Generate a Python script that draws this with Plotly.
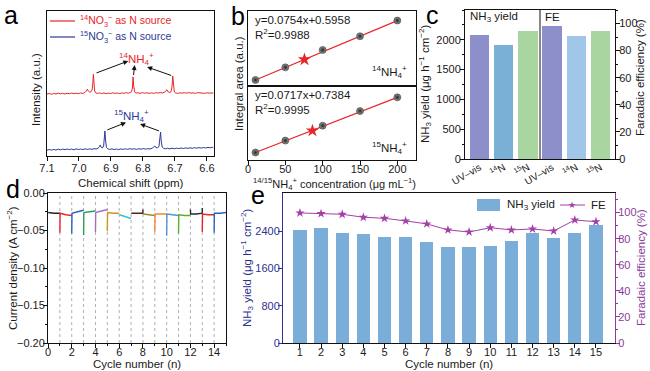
import plotly.graph_objects as go

W, H = 650, 371
FONT = "Liberation Sans, Arial, sans-serif"
BLACK = "#111111"
TICK = 11

def px(x):
    return x / W

def py(y):
    return 1 - y / H

# ---------------- Panel a : NMR spectra ----------------
red_ppm = [7.100, 7.093, 7.086, 7.079, 7.072, 7.065, 7.058, 7.051, 7.044, 7.037, 7.030, 7.023, 7.016, 7.009,
           7.002, 6.995, 6.988, 6.982, 6.977, 6.974, 6.971, 6.967, 6.963, 6.959, 6.957, 6.955, 6.953, 6.951,
           6.948, 6.943, 6.936, 6.929, 6.922, 6.915, 6.908, 6.901, 6.894, 6.887, 6.880, 6.873, 6.866, 6.859,
           6.852, 6.846, 6.840, 6.836, 6.833, 6.831, 6.829, 6.826, 6.822, 6.816, 6.809, 6.802, 6.795, 6.788,
           6.781, 6.774, 6.767, 6.760, 6.753, 6.746, 6.739, 6.732, 6.728, 6.725, 6.721, 6.716, 6.712, 6.709,
           6.707, 6.705, 6.702, 6.698, 6.692, 6.685, 6.678, 6.671, 6.664, 6.657, 6.650, 6.643, 6.636, 6.629,
           6.622, 6.615, 6.608, 6.601, 6.594, 6.587, 6.580]
red_int = [62.0, 62.5, 61.8, 62.4, 62.1, 62.8, 62.2, 62.6, 62.0, 62.7, 62.3, 62.9, 62.4, 62.8,
           62.3, 63.0, 62.6, 63.4, 65.0, 66.8, 65.2, 63.8, 64.2, 66.0, 72.0, 81.7, 73.0, 65.0,
           63.2, 62.6, 63.1, 62.5, 63.0, 62.4, 62.9, 62.5, 63.2, 62.6, 63.0, 62.4, 63.1, 62.7,
           63.3, 62.8, 63.5, 64.2, 68.0, 79.0, 70.0, 64.0, 62.9, 63.2, 62.7, 63.3, 62.8, 63.2,
           62.6, 63.1, 62.7, 63.3, 62.9, 63.4, 63.0, 63.8, 65.5, 66.2, 64.0, 63.5, 64.5, 70.0,
           80.0, 71.0, 64.0, 63.0, 62.7, 63.2, 62.8, 63.3, 62.9, 63.4, 62.8, 63.2, 62.7, 63.3,
           62.9, 63.2, 62.7, 63.1, 62.8, 63.2, 62.9]

blue_ppm = [7.100, 7.093, 7.086, 7.079, 7.072, 7.065, 7.058, 7.051, 7.044, 7.037, 7.030, 7.023, 7.016, 7.009,
            7.002, 6.995, 6.988, 6.981, 6.974, 6.967, 6.960, 6.953, 6.946, 6.940, 6.936, 6.934, 6.931, 6.927,
            6.923, 6.921, 6.919, 6.917, 6.914, 6.910, 6.904, 6.897, 6.890, 6.883, 6.876, 6.869, 6.862, 6.855,
            6.848, 6.841, 6.834, 6.827, 6.820, 6.813, 6.806, 6.799, 6.792, 6.785, 6.778, 6.771, 6.766, 6.763,
            6.760, 6.755, 6.750, 6.747, 6.745, 6.743, 6.740, 6.736, 6.730, 6.723, 6.716, 6.709, 6.702, 6.695,
            6.688, 6.681, 6.674, 6.667, 6.660, 6.653, 6.646, 6.639, 6.632, 6.625, 6.618, 6.611, 6.604, 6.597,
            6.590, 6.583, 6.580]
blue_int = [5.8, 6.5, 5.9, 6.6, 6.0, 6.8, 6.2, 6.9, 6.3, 7.0, 6.4, 6.9, 6.2, 7.1,
            6.5, 7.0, 6.4, 7.2, 6.6, 7.1, 6.7, 7.3, 7.0, 7.8, 9.5, 11.0, 9.0, 8.0,
            10.0, 17.0, 25.0, 16.0, 8.5, 7.2, 6.6, 7.1, 6.5, 7.0, 6.4, 7.1, 6.6, 7.2,
            6.7, 7.3, 6.8, 7.2, 6.6, 7.3, 6.8, 7.4, 6.9, 7.3, 7.0, 7.8, 9.0, 10.0,
            8.6, 8.2, 9.5, 16.0, 24.0, 15.0, 9.0, 7.8, 7.2, 7.7, 7.1, 7.8, 7.3, 7.9,
            7.4, 8.0, 7.5, 8.1, 7.6, 8.2, 7.7, 8.3, 7.8, 8.4, 7.9, 8.5, 8.0, 8.6,
            8.2, 8.7, 8.4]
a_ticks = [7.1, 7.0, 6.9, 6.8, 6.7, 6.6]

# ---------------- Panel b : calibration ----------------
b_conc = [10, 50, 100, 150, 200]
b14_area = [1.35, 4.4, 8.6, 11.9, 15.7]
b15_area = [1.45, 4.4, 8.1, 11.7, 15.1]
b14_fit_x = [10, 200]
b14_fit_y = [1.35, 15.68]
b15_fit_x = [10, 200]
b15_fit_y = [1.45, 15.08]
b14_sample = (75.6, 6.3)
b15_sample = (86.3, 6.85)
b_ticks = [0, 50, 100, 150, 200]

# ---------------- Panel c : methods comparison ----------------
c_labels = ["UV–vis", "<sup>14</sup>N", "<sup>15</sup>N"]
c_yield = [2080, 1910, 2150]
c_fe = [98.5, 90.5, 94.5]
c_pos_yield = [0.6, 1.6, 2.6]
c_pos_fe = [3.6, 4.6, 5.6]
c_yield_colors = ["#8c8fca", "#7aafd6", "#a9d6a0"]
c_fe_colors = ["#8c8fca", "#a0c6e8", "#a9d6a0"]

# ---------------- Panel d : cycling i-t ----------------
cyc_colors = ["#222222", "#e8262a", "#2a62c4", "#2e9e52", "#a070c8", "#cf9424", "#2ec4d6", "#4e2424",
              "#8e8e30", "#f2872f", "#4f95da", "#56b22c", "#2a2a2a", "#e52630", "#2a62c4"]
cyc_spike = [None, -0.053, -0.054, -0.056, -0.052, -0.051, None, None, None, -0.052, -0.057, -0.054,
             None, -0.052, -0.053]
cyc_start_tick = [None, None, None, None, None, None, None, None, None, None, None, None, -0.022, None, None]
cyc_start = [-0.026, -0.027, -0.027, -0.026, -0.026, -0.026, -0.029, -0.027, -0.028, -0.028, -0.028,
             -0.029, -0.028, -0.028, -0.027]
cyc_mid = [-0.027, -0.029, -0.025, -0.025, -0.024, -0.027, -0.031, -0.027, -0.029, -0.028, -0.029,
           -0.030, -0.028, -0.029, -0.027]
cyc_end = [-0.027, -0.030, -0.023, -0.024, -0.022, -0.027, -0.034, -0.027, -0.030, -0.028, -0.030,
           -0.030, -0.027, -0.029, -0.026]
cyc_end_tick = [None, None, None, None, None, None, None, -0.022, None, None, None, None, -0.020, None, None]
d_yticks = [0.0, -0.05, -0.10, -0.15, -0.20]
d_yticktext = ["0.00", "−0.05", "−0.10", "−0.15", "−0.20"]

# ---------------- Panel e : cycling yield & FE ----------------
e_cycle = list(range(1, 16))
e_yield = [2425, 2460, 2367, 2339, 2281, 2281, 2167, 2067, 2053, 2081, 2195, 2367, 2260, 2367, 2532]
e_fe = [99.7, 99.2, 98.7, 96.4, 95.6, 93.6, 91.3, 86.7, 85.1, 88.4, 86.7, 87.4, 85.9, 94.3, 93.0]

E_BLUE = "#2e3192"
E_PURP = "#8b3a9c"

fig = go.Figure()

# a
fig.add_trace(go.Scatter(x=red_ppm, y=red_int, mode="lines", line=dict(color="#e8262a", width=1),
                         xaxis="x", yaxis="y", showlegend=False))
fig.add_trace(go.Scatter(x=blue_ppm, y=blue_int, mode="lines", line=dict(color="#2b3a98", width=1),
                         xaxis="x", yaxis="y", showlegend=False))

# b
ball = dict(color="#9a9a9a", size=7, gradient=dict(type="radial", color="#222222"),
            line=dict(color="#222222", width=0.5))
fig.add_trace(go.Scatter(x=b14_fit_x, y=b14_fit_y, mode="lines", line=dict(color="#e8262a", width=1.2),
                         xaxis="x3", yaxis="y3", showlegend=False))
fig.add_trace(go.Scatter(x=b_conc, y=b14_area, mode="markers", marker=ball, xaxis="x3", yaxis="y3",
                         showlegend=False))
fig.add_trace(go.Scatter(x=[b14_sample[0]], y=[b14_sample[1]], mode="markers",
                         marker=dict(symbol="star", color="#e8262a", size=10), xaxis="x3", yaxis="y3",
                         showlegend=False))
fig.add_trace(go.Scatter(x=b15_fit_x, y=b15_fit_y, mode="lines", line=dict(color="#e8262a", width=1.2),
                         xaxis="x2", yaxis="y2", showlegend=False))
fig.add_trace(go.Scatter(x=b_conc, y=b15_area, mode="markers", marker=ball, xaxis="x2", yaxis="y2",
                         showlegend=False))
fig.add_trace(go.Scatter(x=[b15_sample[0]], y=[b15_sample[1]], mode="markers",
                         marker=dict(symbol="star", color="#e8262a", size=10), xaxis="x2", yaxis="y2",
                         showlegend=False))

# c
fig.add_trace(go.Bar(x=c_pos_yield, y=c_yield, width=0.8, marker=dict(color=c_yield_colors, line=dict(width=0)),
                     xaxis="x4", yaxis="y4", showlegend=False))
fig.add_trace(go.Bar(x=c_pos_fe, y=c_fe, width=0.8, marker=dict(color=c_fe_colors, line=dict(width=0)),
                     xaxis="x4", yaxis="y5", showlegend=False))

# d
for i in range(15):
    xs, ys = [], []
    if cyc_start_tick[i] is not None:
        xs.append(i); ys.append(cyc_start_tick[i])
    if cyc_spike[i] is not None:
        xs.append(i); ys.append(cyc_spike[i])
    xs += [i + 0.02, i + 0.5, i + 1]
    ys += [cyc_start[i], cyc_mid[i], cyc_end[i]]
    if cyc_end_tick[i] is not None:
        xs.append(i + 1); ys.append(cyc_end_tick[i])
    fig.add_trace(go.Scatter(x=xs, y=ys, mode="lines", line=dict(color=cyc_colors[i], width=1.4),
                             xaxis="x6", yaxis="y6", showlegend=False))

# e
fig.add_trace(go.Bar(x=e_cycle, y=e_yield, width=0.63, marker=dict(color="#7badd9", line=dict(width=0)),
                     xaxis="x7", yaxis="y7", showlegend=False))
fig.add_trace(go.Scatter(x=e_cycle, y=e_fe, mode="lines+markers", line=dict(color="#a43fa8", width=1),
                         marker=dict(symbol="star", size=7, color="#a43fa8"),
                         xaxis="x7", yaxis="y8", showlegend=False))


def axis(**kw):
    base = dict(showline=True, linecolor=BLACK, linewidth=1, mirror=True, ticks="outside", ticklen=4,
                tickwidth=1, tickcolor=BLACK, showgrid=False, zeroline=False, automargin=False,
                ticklabelstandoff=-5,
                tickfont=dict(size=TICK, color="#1a1a1a", family=FONT))
    base.update(kw)
    return base


layout = dict(
    width=W, height=H, margin=dict(l=0, r=0, t=0, b=0, autoexpand=False),
    paper_bgcolor="white", plot_bgcolor="white",
    font=dict(family=FONT, size=11, color="#1a1a1a"),
    bargap=0,
    # a
    xaxis=axis(domain=[px(47), px(214)], anchor="y", range=[7.1, 6.578], tickvals=a_ticks,
               ticktext=[f"{v:.1f}" for v in a_ticks], ticklabelstandoff=-2),
    yaxis=axis(domain=[py(156), py(11)], anchor="x", range=[0, 145], ticks="", showticklabels=False),
    # b bottom
    xaxis2=axis(domain=[px(248), px(416)], anchor="y2", range=[0, 225], tickvals=b_ticks),
    yaxis2=axis(domain=[py(160), py(86)], anchor="x2", range=[-0.4, 17.9], ticks="", showticklabels=False),
    # b top
    xaxis3=axis(domain=[px(248), px(416)], anchor="y3", range=[0, 225], ticks="", showticklabels=False),
    yaxis3=axis(domain=[py(86), py(11)], anchor="x3", range=[-0.1, 18.0], ticks="", showticklabels=False),
    # c
    xaxis4=axis(domain=[px(465), px(615)], anchor="y4", range=[0, 6.2], ticks="", ticklabelstandoff=-2,
                tickvals=c_pos_yield + c_pos_fe, ticktext=c_labels + c_labels, tickangle=-30,
                tickfont=dict(size=10, color="#1a1a1a", family=FONT)),
    yaxis4=axis(domain=[py(159), py(10)], anchor="x4", range=[0, 2500], tickvals=[0, 500, 1000, 1500, 2000],
                mirror=False, ticklabelstandoff=-3,
                minor=dict(dtick=250, ticks="outside", ticklen=2, tickcolor=BLACK)),
    yaxis5=axis(domain=[py(159), py(10)], anchor="x4", overlaying="y4", side="right", range=[0, 110],
                tickvals=[0, 20, 40, 60, 80, 100], mirror=False, ticklabelstandoff=-3,
                minor=dict(dtick=10, ticks="outside", ticklen=2, tickcolor=BLACK)),
    # d
    xaxis6=axis(domain=[px(48), px(226)], anchor="y6", range=[0, 15], tickvals=list(range(0, 15, 2)),
                minor=dict(dtick=1, ticks="outside", ticklen=2, tickcolor=BLACK)),
    yaxis6=axis(domain=[py(343), py(193)], anchor="x6", range=[-0.2, 0.0], tickvals=d_yticks,
                ticktext=d_yticktext, ticklabelstandoff=-4,
                minor=dict(dtick=0.025, ticks="outside", ticklen=2, tickcolor=BLACK)),
    # e
    xaxis7=axis(domain=[px(283), px(615)], anchor="y7", range=[0.2, 15.9], tickvals=e_cycle),
    yaxis7=axis(domain=[py(343), py(193)], anchor="x7", range=[0, 3220], tickvals=[0, 800, 1600, 2400],
                mirror=False, linecolor=E_BLUE, tickcolor=E_BLUE, ticklabelstandoff=-4,
                tickfont=dict(size=TICK, color=E_BLUE, family=FONT)),
    yaxis8=axis(domain=[py(343), py(193)], anchor="x7", overlaying="y7", side="right", range=[0, 115],
                tickvals=[0, 20, 40, 60, 80, 100], mirror=False, linecolor=E_PURP, tickcolor=E_PURP,
                ticklabelstandoff=-4,
                tickfont=dict(size=TICK, color=E_PURP, family=FONT),
                minor=dict(dtick=10, ticks="outside", ticklen=2, tickcolor=E_PURP)),
)
fig.update_layout(**layout)

shapes = []
# c divider
shapes.append(dict(type="line", xref="x4", yref="y4 domain", x0=3.1, x1=3.1, y0=0, y1=1,
                   line=dict(color=BLACK, width=1)))
# d dotted verticals
for k in range(1, 15):
    shapes.append(dict(type="line", xref="x6", yref="y6 domain", x0=k, x1=k, y0=0, y1=1,
                       line=dict(color="#b0b0b0", width=1, dash="dot"), layer="below"))
# a legend lines
shapes.append(dict(type="line", xref="paper", yref="paper", x0=px(50), x1=px(75), y0=py(21), y1=py(21),
                   line=dict(color="#e8262a", width=1.2)))
shapes.append(dict(type="line", xref="paper", yref="paper", x0=px(50), x1=px(75), y0=py(37), y1=py(37),
                   line=dict(color="#2b3a98", width=1.2)))
# e legend
shapes.append(dict(type="rect", xref="paper", yref="paper", x0=px(477), x1=px(500), y0=py(211), y1=py(199),
                   fillcolor="#7badd9", line=dict(width=0)))
shapes.append(dict(type="line", xref="paper", yref="paper", x0=px(560), x1=px(585), y0=py(205), y1=py(205),
                   line=dict(color="#a43fa8", width=1)))
fig.update_layout(shapes=shapes)

ann = []


def txt(x, y, s, size=11.5, color="#1a1a1a", xa="center", ya="middle", angle=0):
    ann.append(dict(x=px(x), y=py(y), xref="paper", yref="paper", text=s, showarrow=False,
                    font=dict(size=size, color=color, family=FONT), xanchor=xa, yanchor=ya,
                    textangle=angle))


# panel letters
txt(11, 15, "a", size=25, color="#000")
txt(238, 16, "b", size=25, color="#000")
txt(432, 15, "c", size=25, color="#000")
txt(13, 189, "d", size=25, color="#000")
txt(258, 195, "e", size=25, color="#000")

# a texts
txt(78, 21, "<sup>14</sup>NO<sub>3</sub><sup>−</sup> as N source", size=10.5, color="#e8262a", xa="left")
txt(78, 37, "<sup>15</sup>NO<sub>3</sub><sup>−</sup> as N source", size=10.5, color="#2b3a98", xa="left")
txt(36, 90, "Intensity (a.u.)", angle=-90)
txt(131, 183, "Chemical shift (ppm)")
ann.append(dict(x=6.820, y=97, xref="x", yref="y", text="<sup>14</sup>NH<sub>4</sub><sup>+</sup>",
                showarrow=False, font=dict(size=11.5, color="#e8262a", family=FONT)))
ann.append(dict(x=6.835, y=40, xref="x", yref="y", text="<sup>15</sup>NH<sub>4</sub><sup>+</sup>",
                showarrow=False, font=dict(size=11.5, color="#2b3a98", family=FONT)))
arrows = [((6.846, 95), (6.950, 82.5)), ((6.826, 91), (6.830, 79.5)), ((6.787, 89), (6.707, 80)),
          ((6.853, 33.5), (6.916, 25.5)), ((6.809, 32), (6.745, 24.5))]
for (hx, hy), (tx, ty) in arrows:
    ann.append(dict(x=hx, y=hy, ax=tx, ay=ty, xref="x", yref="y", axref="x", ayref="y", text="",
                    showarrow=True, arrowhead=2, arrowsize=1, arrowwidth=1, arrowcolor="#111"))

# b texts
txt(253, 20, "y=0.0754x+0.5958", xa="left")
txt(253, 34, "R<sup>2</sup>=0.9988", xa="left")
txt(409, 72, "<sup>14</sup>NH<sub>4</sub><sup>+</sup>", xa="right")
txt(253, 95, "y=0.0717x+0.7384", xa="left")
txt(253, 109, "R<sup>2</sup>=0.9995", xa="left")
txt(409, 148, "<sup>15</sup>NH<sub>4</sub><sup>+</sup>", xa="right")
txt(239, 84, "Integral area (a.u.)", angle=-90)
txt(334, 184, "<sup>14/15</sup>NH<sub>4</sub><sup>+</sup> concentration (μg mL<sup>−1</sup>)", size=11)

# c texts
txt(468, 17, "NH<sub>3</sub> yield", xa="left")
txt(543, 17, "FE", xa="left")
txt(425, 84, "NH<sub>3</sub> yield (μg h<sup>−1</sup> cm<sup>−2</sup>)", angle=-90)
txt(640, 78, "Faradaic efficiency (%)", angle=-90)

# d texts
txt(12, 268, "Current density (A cm<sup>−2</sup>)", angle=-90)
txt(137, 364, "Cycle number (n)")

# e texts
txt(247, 268, "NH<sub>3</sub> yield (μg h<sup>−1</sup> cm<sup>−2</sup>)", angle=-90, color=E_BLUE)
txt(641, 268, "Faradaic efficiency (%)", angle=-90, color=E_PURP)
txt(449, 364, "Cycle number (n)")
txt(505, 205, "NH<sub>3</sub> yield", xa="left")
txt(572, 205, "★", size=9, color="#a43fa8")
txt(589, 205, "FE", xa="left")

fig.update_layout(annotations=ann)

fig.write_html("out.html", config={"displayModeBar": False},
               post_script="document.body.style.margin='0px';document.body.style.overflow='hidden';")
